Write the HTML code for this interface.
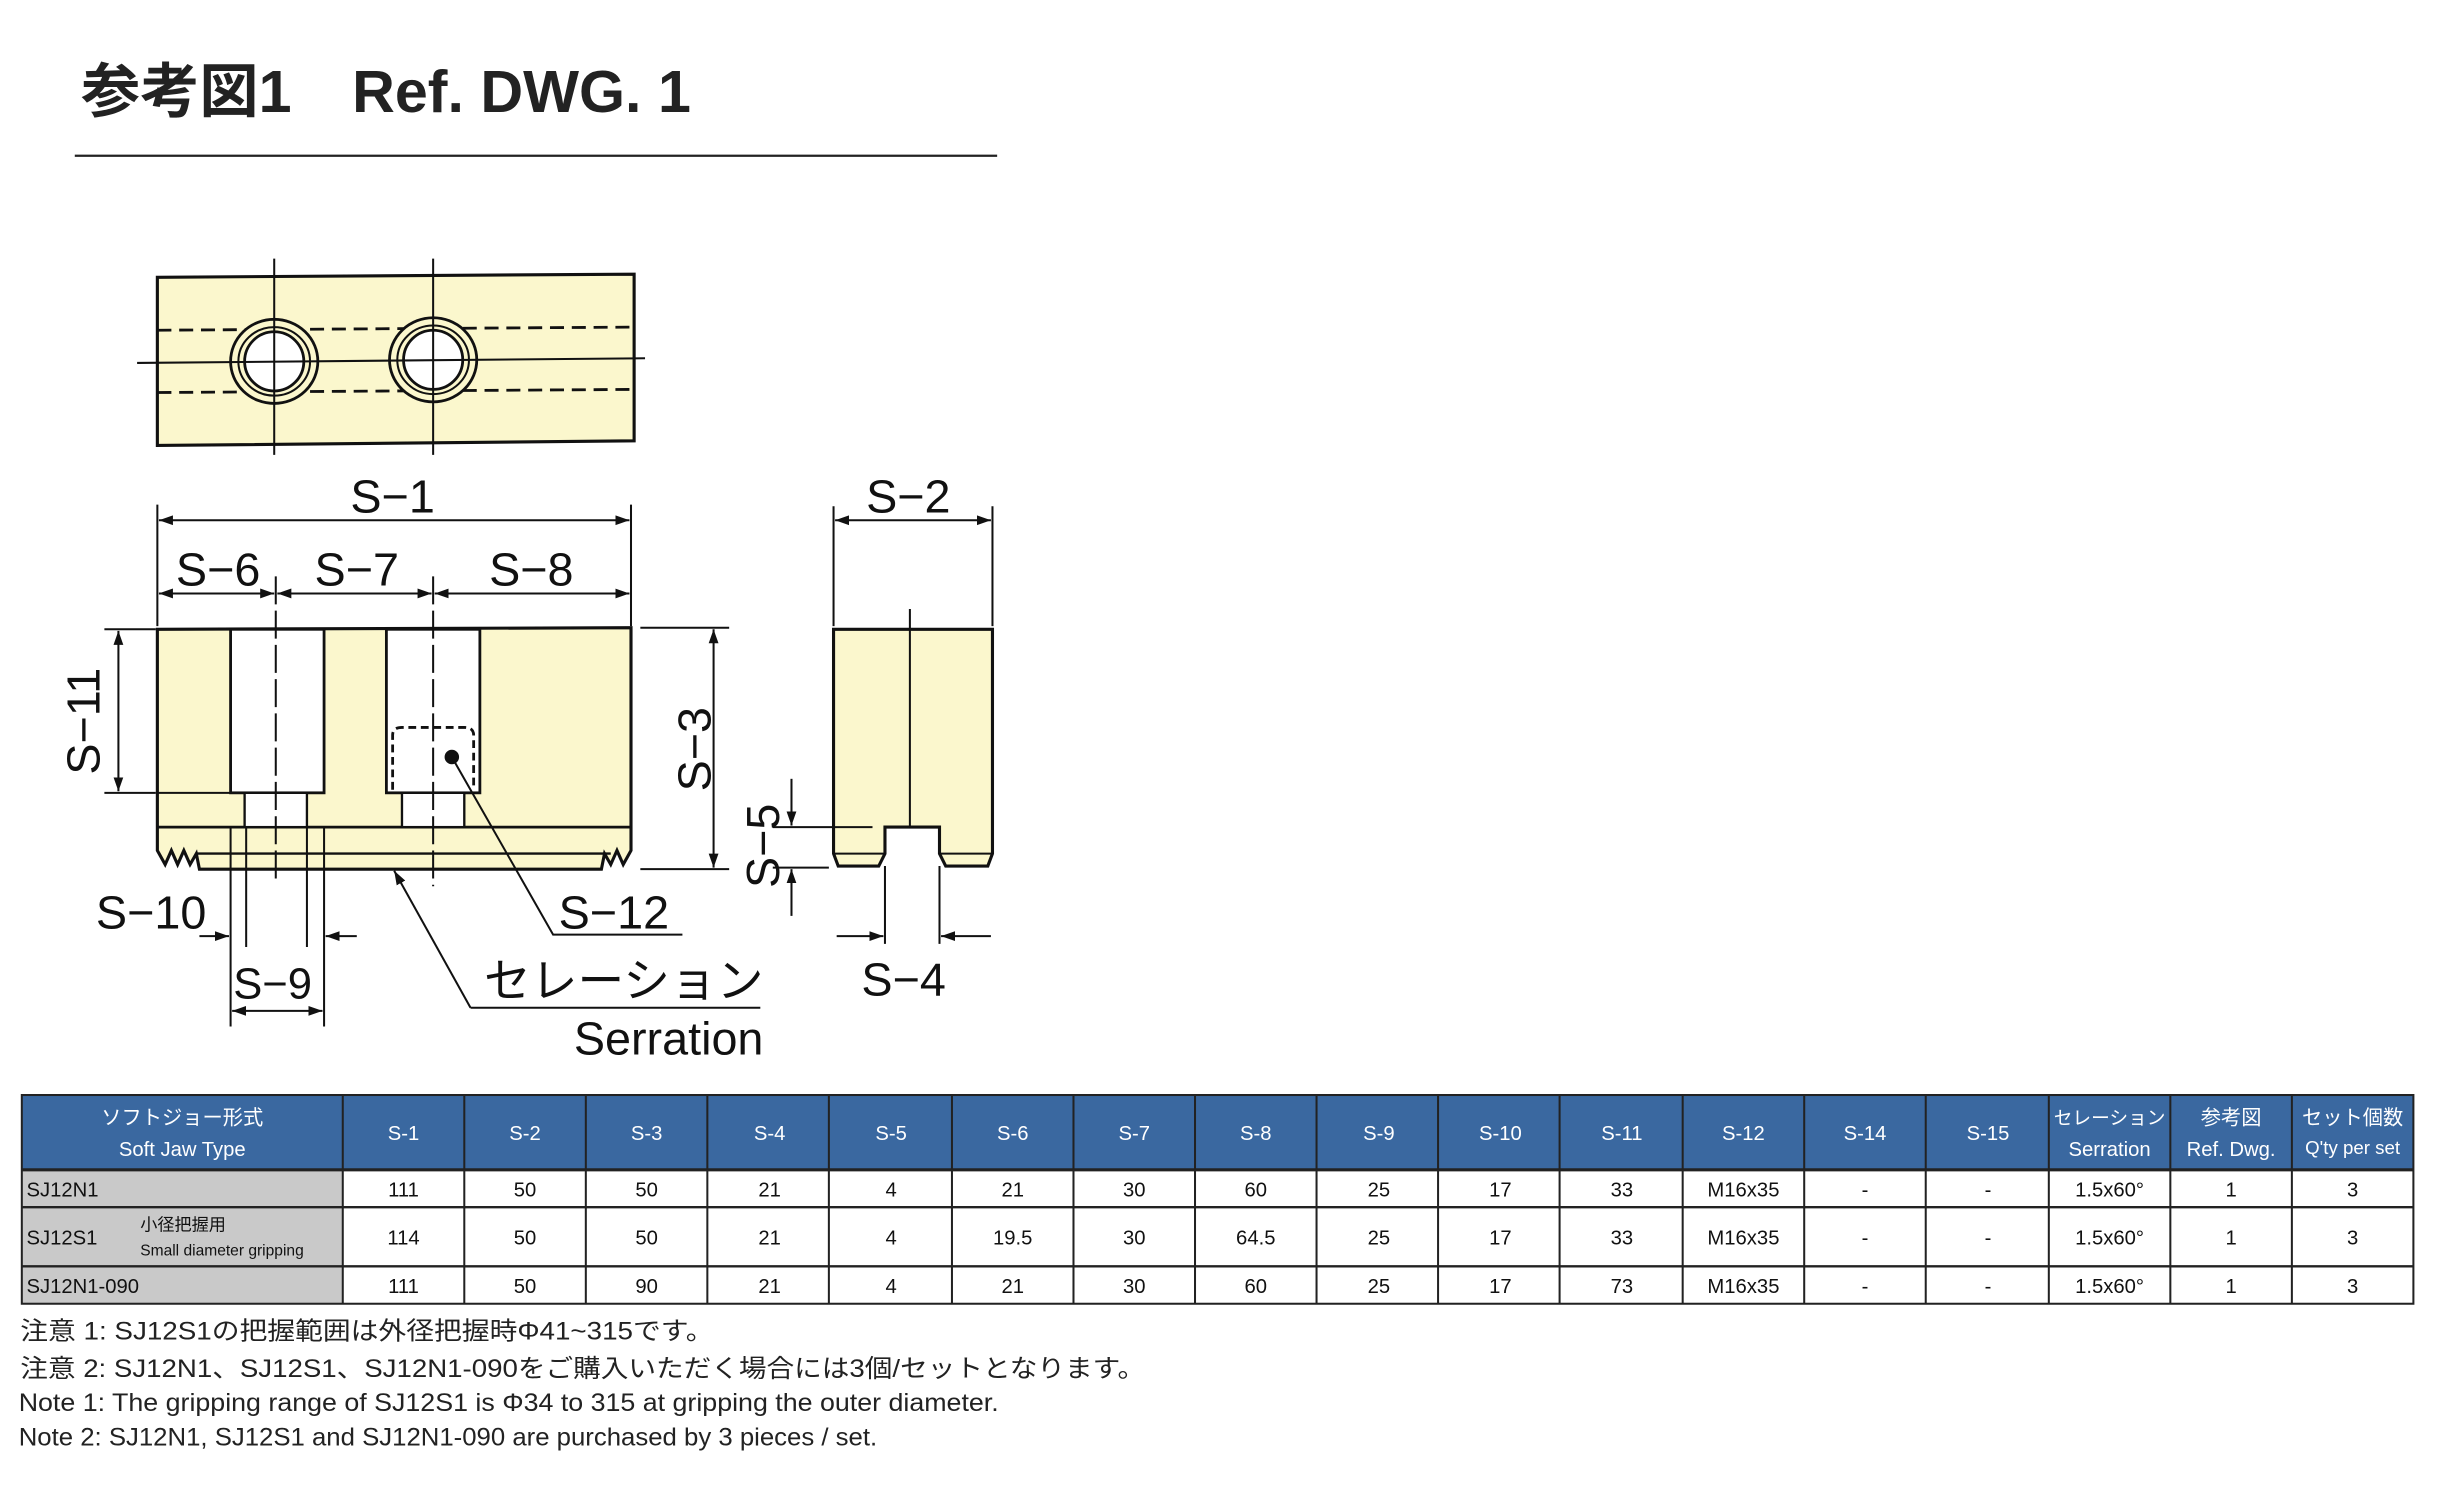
<!DOCTYPE html>
<html><head><meta charset="utf-8"><style>
html,body{margin:0;padding:0;background:#fff;}
svg{display:block;}
text{font-family:"Liberation Sans","Noto Sans CJK JP",sans-serif;}
</style></head><body>
<svg width="2443" height="1500" viewBox="0 0 1568 963" preserveAspectRatio="none" xmlns="http://www.w3.org/2000/svg">
<defs>
<marker id="a" viewBox="0 0 10 10" refX="10" refY="5" markerWidth="9" markerHeight="9" markerUnits="userSpaceOnUse" orient="auto-start-reverse"><path d="M0,1.5 L10,5 L0,8.5 z" fill="#111"/></marker>
</defs>
<rect width="1568" height="963" fill="#fff"/>
<!-- title -->
<text x="52" y="72" font-size="38" font-weight="bold" fill="#222">参考図1</text>
<text x="226" y="72" font-size="38" font-weight="bold" fill="#222">Ref. DWG. 1</text>
<line x1="48" y1="100" x2="640" y2="100" stroke="#222" stroke-width="1.5"/>

<g stroke="#111" stroke-width="1.3" fill="none">
<path d="M101,178 L407,176 L407,283 L101,286 Z" fill="#fbf7cd" stroke-width="2"/>
<line x1="101" y1="212" x2="407" y2="210" stroke-dasharray="9,5" stroke-width="1.8"/>
<line x1="101" y1="252" x2="407" y2="250" stroke-dasharray="9,5" stroke-width="1.8"/>
<ellipse cx="176" cy="232" rx="28" ry="27" fill="#fbf7cd" stroke-width="1.8"/>
<ellipse cx="176" cy="232" rx="23" ry="22" stroke-width="1.3"/>
<circle cx="176" cy="232" r="19" fill="#fff" stroke-width="1.8"/>
<ellipse cx="278" cy="231" rx="28" ry="27" fill="#fbf7cd" stroke-width="1.8"/>
<ellipse cx="278" cy="231" rx="23" ry="22" stroke-width="1.3"/>
<circle cx="278" cy="231" r="19" fill="#fff" stroke-width="1.8"/>
<line x1="88" y1="233" x2="414" y2="230"/>
<line x1="176" y1="166" x2="176" y2="292"/>
<line x1="278" y1="166" x2="278" y2="292"/>

<path d="M101,404 L405,403 L405,546 L400,555 L396,546 L392,555 L388,548 L386,558 L128,558 L126,548 L122,555 L118,546 L114,555 L110,546 L106,555 L101,546 Z" fill="#fbf7cd" stroke-width="2"/>
<line x1="101" y1="531" x2="405" y2="531" stroke-width="1.8"/>
<line x1="126" y1="548" x2="392" y2="548" stroke-width="1.5"/>
<line x1="101" y1="509" x2="148" y2="509"/>
<rect x="148" y="404" width="60" height="105" fill="#fff" stroke-width="1.8"/>
<rect x="157" y="509" width="40" height="22" fill="#fff" stroke-width="1.5"/>
<rect x="248" y="404" width="60" height="105" fill="#fff" stroke-width="1.8"/>
<rect x="258" y="509" width="40" height="22" fill="#fff" stroke-width="1.5"/>
<path d="M252,507 L252,472 Q252,467 258,467 L298,467 Q304,467 304,472 L304,507" stroke-dasharray="5,3" stroke-width="1.8"/>
<circle cx="290" cy="486" r="4" fill="#111"/>
<line x1="177" y1="370" x2="177" y2="568" stroke-dasharray="18,4"/>
<line x1="278" y1="370" x2="278" y2="569" stroke-dasharray="18,4"/>

<path d="M535,404 L637,404 L637,548 L634,556 L607,556 L603,548 L603,531 L568,531 L568,548 L564,556 L538,556 L535,548 Z" fill="#fbf7cd" stroke-width="2"/>
<line x1="535" y1="548" x2="568" y2="548"/>
<line x1="603" y1="548" x2="637" y2="548"/>
<line x1="584" y1="391" x2="584" y2="531"/>

<line x1="101" y1="324" x2="101" y2="402"/>
<line x1="405" y1="324" x2="405" y2="402"/>
<line x1="102" y1="334" x2="404" y2="334" marker-start="url(#a)" marker-end="url(#a)"/>
<line x1="102" y1="381" x2="176" y2="381" marker-start="url(#a)" marker-end="url(#a)"/>
<line x1="178" y1="381" x2="277" y2="381" marker-start="url(#a)" marker-end="url(#a)"/>
<line x1="279" y1="381" x2="404" y2="381" marker-start="url(#a)" marker-end="url(#a)"/>
<line x1="535" y1="325" x2="535" y2="402"/>
<line x1="637" y1="325" x2="637" y2="402"/>
<line x1="536" y1="334" x2="636" y2="334" marker-start="url(#a)" marker-end="url(#a)"/>
<line x1="67" y1="404" x2="100" y2="404"/>
<line x1="67" y1="509" x2="100" y2="509"/>
<line x1="76" y1="405" x2="76" y2="508" marker-start="url(#a)" marker-end="url(#a)"/>
<line x1="411" y1="403" x2="468" y2="403"/>
<line x1="411" y1="558" x2="468" y2="558"/>
<line x1="458" y1="404" x2="458" y2="557" marker-start="url(#a)" marker-end="url(#a)"/>
<line x1="496" y1="531" x2="560" y2="531"/>
<line x1="496" y1="557" x2="532" y2="557"/>
<line x1="508" y1="500" x2="508" y2="530" marker-end="url(#a)"/>
<line x1="508" y1="588" x2="508" y2="558" marker-end="url(#a)"/>
<line x1="568" y1="556" x2="568" y2="606"/>
<line x1="603" y1="556" x2="603" y2="606"/>
<line x1="537" y1="601" x2="567" y2="601" marker-end="url(#a)"/>
<line x1="636" y1="601" x2="604" y2="601" marker-end="url(#a)"/>
<line x1="148" y1="531" x2="148" y2="659"/>
<line x1="208" y1="531" x2="208" y2="659"/>
<line x1="158" y1="531" x2="158" y2="608"/>
<line x1="197" y1="531" x2="197" y2="608"/>
<line x1="128" y1="601" x2="147" y2="601" marker-end="url(#a)"/>
<line x1="229" y1="601" x2="209" y2="601" marker-end="url(#a)"/>
<line x1="149" y1="649" x2="207" y2="649" marker-start="url(#a)" marker-end="url(#a)"/>
<polyline points="290,486 355,600 438,600"/>
<polyline points="302,647 488,647"/>
<line x1="302" y1="647" x2="253" y2="559" marker-end="url(#a)"/>
</g>

<g font-size="30" fill="#111">
<text x="252" y="329" text-anchor="middle">S−1</text>
<text x="140" y="376" text-anchor="middle">S−6</text>
<text x="229" y="376" text-anchor="middle">S−7</text>
<text x="341" y="376" text-anchor="middle">S−8</text>
<text x="583" y="329" text-anchor="middle">S−2</text>
<text transform="translate(64,463) rotate(-90)" text-anchor="middle">S−11</text>
<text transform="translate(456,481) rotate(-90)" text-anchor="middle">S−3</text>
<text transform="translate(500,543) rotate(-90)" text-anchor="middle">S−5</text>
<text x="580" y="639" text-anchor="middle">S−4</text>
<text x="97" y="596" text-anchor="middle">S−10</text>
<text x="175" y="641" text-anchor="middle" font-size="28">S−9</text>
<text x="394" y="596" text-anchor="middle">S−12</text>
<text x="490" y="640" text-anchor="end">セレーション</text>
<text x="490" y="677" text-anchor="end">Serration</text>
</g>

<rect x="14" y="703" width="1535" height="48" fill="#3a68a0"/>
<rect x="14" y="751" width="206" height="86" fill="#c9c9c9"/>
<g stroke="#222" stroke-width="1.3" fill="none">
<rect x="14" y="703" width="1535" height="134"/>
<line x1="14" y1="751" x2="1549" y2="751" stroke-width="2"/>
<line x1="14" y1="775" x2="1549" y2="775" stroke-width="1.5"/>
<line x1="14" y1="813" x2="1549" y2="813" stroke-width="1.5"/>
<line x1="220" y1="703" x2="220" y2="837"/>
<line x1="298" y1="703" x2="298" y2="837"/><line x1="376" y1="703" x2="376" y2="837"/>
<line x1="454" y1="703" x2="454" y2="837"/><line x1="532" y1="703" x2="532" y2="837"/>
<line x1="611" y1="703" x2="611" y2="837"/><line x1="689" y1="703" x2="689" y2="837"/>
<line x1="767" y1="703" x2="767" y2="837"/><line x1="845" y1="703" x2="845" y2="837"/>
<line x1="923" y1="703" x2="923" y2="837"/><line x1="1001" y1="703" x2="1001" y2="837"/>
<line x1="1080" y1="703" x2="1080" y2="837"/><line x1="1158" y1="703" x2="1158" y2="837"/>
<line x1="1236" y1="703" x2="1236" y2="837"/><line x1="1315" y1="703" x2="1315" y2="837"/>
<line x1="1393" y1="703" x2="1393" y2="837"/><line x1="1471" y1="703" x2="1471" y2="837"/>
</g>
<g font-size="13" fill="#fff" text-anchor="middle">
<text x="117" y="722">ソフトジョー形式</text>
<text x="117" y="742">Soft Jaw Type</text>
<text x="259" y="732">S-1</text><text x="337" y="732">S-2</text><text x="415" y="732">S-3</text>
<text x="494" y="732">S-4</text><text x="572" y="732">S-5</text><text x="650" y="732">S-6</text>
<text x="728" y="732">S-7</text><text x="806" y="732">S-8</text><text x="885" y="732">S-9</text>
<text x="963" y="732">S-10</text><text x="1041" y="732">S-11</text><text x="1119" y="732">S-12</text>
<text x="1197" y="732">S-14</text><text x="1276" y="732">S-15</text>
<text x="1354" y="722" font-size="12">セレーション</text><text x="1354" y="742">Serration</text>
<text x="1432" y="722">参考図</text><text x="1432" y="742">Ref. Dwg.</text>
<text x="1510" y="722">セット個数</text><text x="1510" y="741" font-size="12">Q'ty per set</text>
</g>
<g font-size="13" fill="#111">
<text x="17" y="768">SJ12N1</text>
<text x="17" y="799">SJ12S1</text>
<text x="90" y="790" font-size="11">小径把握用</text>
<text x="90" y="806" font-size="10">Small diameter gripping</text>
<text x="17" y="830">SJ12N1-090</text>
</g>
<g font-size="13" fill="#111" text-anchor="middle">
<text x="259" y="768">111</text><text x="337" y="768">50</text><text x="415" y="768">50</text><text x="494" y="768">21</text><text x="572" y="768">4</text><text x="650" y="768">21</text><text x="728" y="768">30</text><text x="806" y="768">60</text><text x="885" y="768">25</text><text x="963" y="768">17</text><text x="1041" y="768">33</text><text x="1119" y="768">M16x35</text><text x="1197" y="768">-</text><text x="1276" y="768">-</text><text x="1354" y="768">1.5x60°</text><text x="1432" y="768">1</text><text x="1510" y="768">3</text>
<text x="259" y="799">114</text><text x="337" y="799">50</text><text x="415" y="799">50</text><text x="494" y="799">21</text><text x="572" y="799">4</text><text x="650" y="799">19.5</text><text x="728" y="799">30</text><text x="806" y="799">64.5</text><text x="885" y="799">25</text><text x="963" y="799">17</text><text x="1041" y="799">33</text><text x="1119" y="799">M16x35</text><text x="1197" y="799">-</text><text x="1276" y="799">-</text><text x="1354" y="799">1.5x60°</text><text x="1432" y="799">1</text><text x="1510" y="799">3</text>
<text x="259" y="830">111</text><text x="337" y="830">50</text><text x="415" y="830">90</text><text x="494" y="830">21</text><text x="572" y="830">4</text><text x="650" y="830">21</text><text x="728" y="830">30</text><text x="806" y="830">60</text><text x="885" y="830">25</text><text x="963" y="830">17</text><text x="1041" y="830">73</text><text x="1119" y="830">M16x35</text><text x="1197" y="830">-</text><text x="1276" y="830">-</text><text x="1354" y="830">1.5x60°</text><text x="1432" y="830">1</text><text x="1510" y="830">3</text>
</g>
<g font-size="16" fill="#222">
<text x="13" y="860" textLength="445" lengthAdjust="spacingAndGlyphs">注意 1: SJ12S1の把握範囲は外径把握時Φ41~315です。</text>
<text x="13" y="884" textLength="722" lengthAdjust="spacingAndGlyphs">注意 2: SJ12N1、SJ12S1、SJ12N1-090をご購入いただく場合には3個/セットとなります。</text>
<text x="12" y="906" textLength="629" lengthAdjust="spacingAndGlyphs">Note 1: The gripping range of SJ12S1 is Φ34 to 315 at gripping the outer diameter.</text>
<text x="12" y="928" textLength="551" lengthAdjust="spacingAndGlyphs">Note 2: SJ12N1, SJ12S1 and SJ12N1-090 are purchased by 3 pieces / set.</text>
</g>
</svg>
</body></html>
